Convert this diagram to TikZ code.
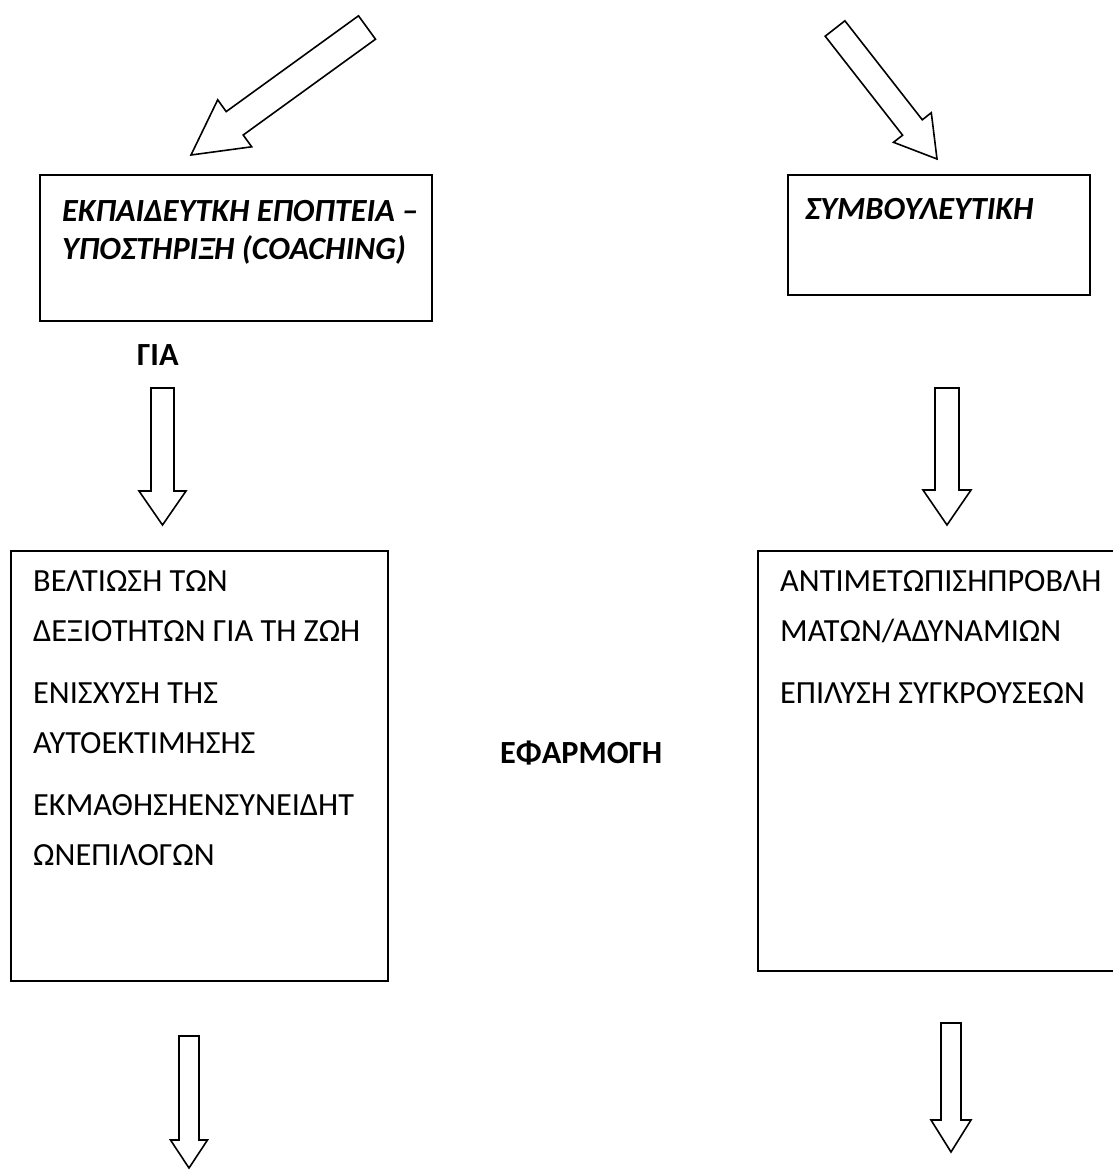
\documentclass[tikz,border=0pt]{standalone}
\usepackage{fontspec}
\setmainfont{Carlito}
\usetikzlibrary{positioning}

\begin{document}
\begin{tikzpicture}[x=1pt, y=-1pt,
    wordbox/.style={draw, line width=2pt, rectangle, inner sep=0pt, outer sep=0pt, anchor=north west},
    headtext/.style={inner sep=0pt, anchor=north west, align=left, font=\fontsize{32.3}{38}\selectfont\bfseries\itshape},
    listtext/.style={inner sep=0pt, anchor=north west, align=left, font=\fontsize{32.3}{50.5}\selectfont},
    tagtext/.style={inner sep=0pt, anchor=base west, font=\fontsize{32.3}{38}\selectfont\bfseries},
    blockarrow/.style={draw, line width=1.6pt, line join=miter, fill=white}]
    \fill[white] (0,0) rectangle (1113,1171);
    \useasboundingbox (0,0) rectangle (1113,1171);
    \clip (0,0) rectangle (1113,1171);

    \node[wordbox, minimum width=392pt, minimum height=146pt] (coach) at (40,175) {};
    \node[wordbox, minimum width=302pt, minimum height=120pt] (couns) at (788,175) {};
    \node[wordbox, minimum width=377pt, minimum height=430pt] (skills) at (11,551) {};
    \node[wordbox, minimum width=360pt, minimum height=420pt] (probs) at (758,551) {};

    \node[headtext] (coachtext) at ([shift={(22,25)}]coach.north west) {ΕΚΠΑΙΔΕΥΤΚΗ ΕΠΟΠΤΕΙΑ –\\ΥΠΟΣΤΗΡΙΞΗ (COACHING)};
    \node[headtext] (counstext) at ([shift={(17,23)}]couns.north west) {ΣΥΜΒΟΥΛΕΥΤΙΚΗ};
    \node[listtext] (skillstext) at ([shift={(22,19)}]skills.north west) {ΒΕΛΤΙΩΣΗ ΤΩΝ\\ΔΕΞΙΟΤΗΤΩΝ ΓΙΑ ΤΗ ΖΩΗ\\[11pt]ΕΝΙΣΧΥΣΗ ΤΗΣ\\ΑΥΤΟΕΚΤΙΜΗΣΗΣ\\[11pt]ΕΚΜΑΘΗΣΗΕΝΣΥΝΕΙΔΗΤ\\ΩΝΕΠΙΛΟΓΩΝ};
    \node[listtext] (probstext) at ([shift={(22,19)}]probs.north west) {ΑΝΤΙΜΕΤΩΠΙΣΗΠΡΟΒΛΗ\\ΜΑΤΩΝ/ΑΔΥΝΑΜΙΩΝ\\[11pt]ΕΠΙΛΥΣΗ ΣΥΓΚΡΟΥΣΕΩΝ};

    \node[tagtext] (gia) at (137,365) {ΓΙΑ};
    \node[tagtext] (efarm) at (500,763) {ΕΦΑΡΜΟΓΗ};

    \draw[blockarrow] (358.5,15.8) -- (226.2,111.6) -- (217.7,99.8) -- (191,155) -- (251.7,146.8) -- (243.2,135) -- (375.5,39.2) -- cycle;
    \draw[blockarrow] (825.2,36.2) -- (902.6,135.2) -- (893.5,142.3) -- (937,159) -- (931.3,112.7) -- (922.3,119.8) -- (844.9,20.8) -- cycle;
    \draw[blockarrow] (151,388) -- (151,491) -- (139,491) -- (162.5,525) -- (186,491) -- (174,491) -- (174,388) -- cycle;
    \draw[blockarrow] (935,388) -- (935,490) -- (923,490) -- (947,525) -- (971,490) -- (959,490) -- (959,388) -- cycle;
    \draw[blockarrow] (179,1036) -- (179,1140) -- (170.5,1140) -- (189,1168) -- (207.5,1140) -- (199,1140) -- (199,1036) -- cycle;
    \draw[blockarrow] (941,1023) -- (941,1120) -- (931,1120) -- (951,1152) -- (971,1120) -- (961,1120) -- (961,1023) -- cycle;
\end{tikzpicture}
\end{document}
